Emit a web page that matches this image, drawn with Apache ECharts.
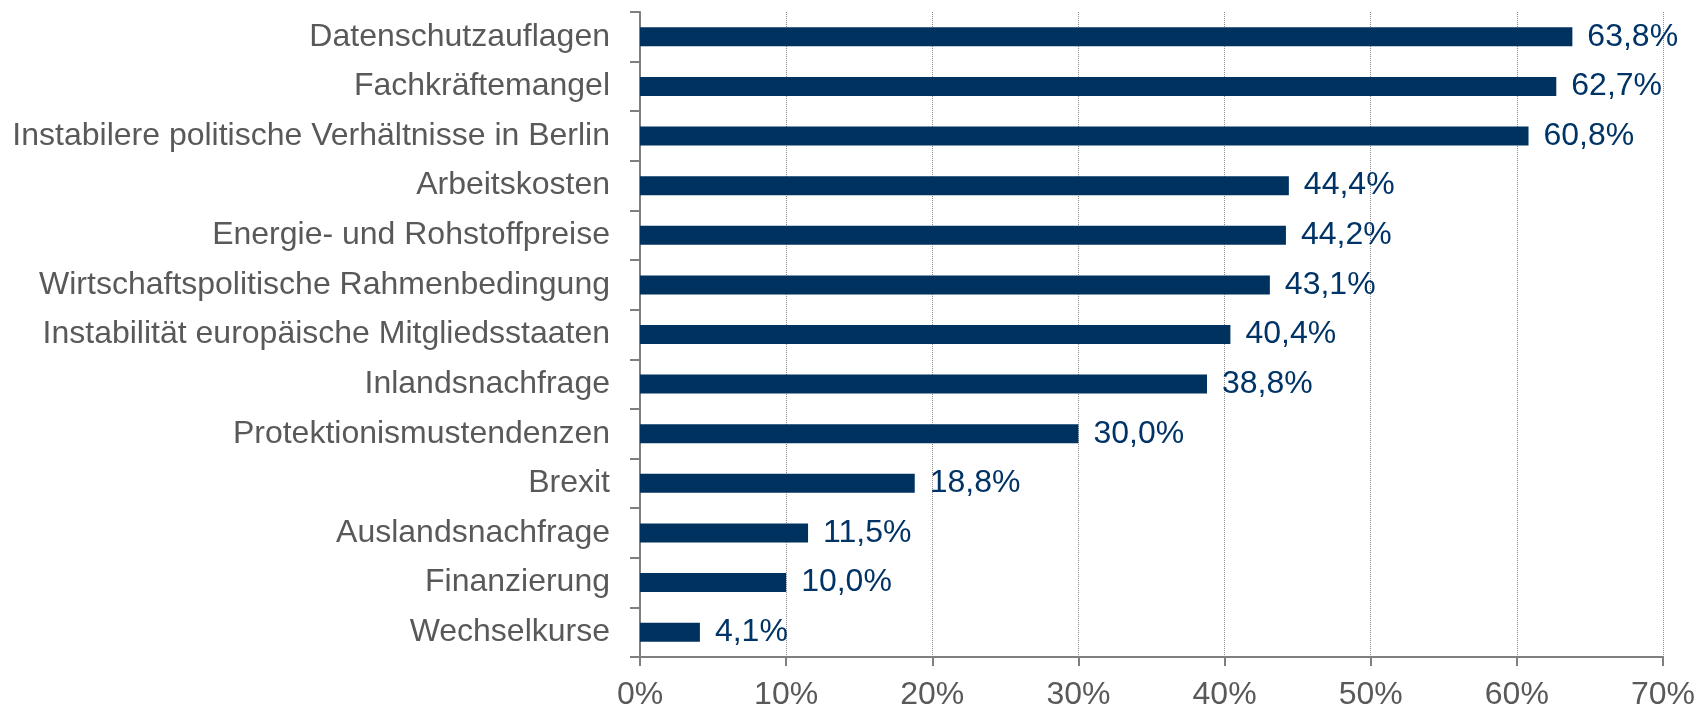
<!DOCTYPE html>
<html>
<head>
<meta charset="utf-8">
<script src="https://cdn.jsdelivr.net/npm/echarts@6/dist/echarts.min.js"></script>
<style>
  html, body { margin: 0; padding: 0; background: #fff; }
  #chart { width: 1698px; height: 712px; }
</style>
</head>
<body>
<div id="chart"></div>
<script>
// Kategorien von oben nach unten
const categories = [
  'Datenschutzauflagen',
  'Fachkräftemangel',
  'Instabilere politische Verhältnisse in Berlin',
  'Arbeitskosten',
  'Energie- und Rohstoffpreise',
  'Wirtschaftspolitische Rahmenbedingung',
  'Instabilität europäische Mitgliedsstaaten',
  'Inlandsnachfrage',
  'Protektionismustendenzen',
  'Brexit',
  'Auslandsnachfrage',
  'Finanzierung',
  'Wechselkurse'
]
const values = [63.8, 62.7, 60.8, 44.4, 44.2, 43.1, 40.4, 38.8, 30.0, 18.8, 11.5, 10.0, 4.1]
const xTicks = { min: 0, max: 70, interval: 10 }

const fontFamily = '"Liberation Sans", Arial, sans-serif'
const grey = '#595959'
const blue = '#003366'

const chart = echarts.init(document.getElementById('chart'))
chart.setOption({
  animation: false,
  grid: {
    left: 640,
    right: 33,
    top: 12,
    bottom: 55
  },
  xAxis: {
    type: 'value',
    min: xTicks.min,
    max: xTicks.max,
    interval: xTicks.interval,
    axisLine: {
      show: true,
      lineStyle: { color: '#7f7f7f', width: 2 }
    },
    axisTick: {
      show: true,
      length: 9,
      lineStyle: { color: '#7f7f7f', width: 2 }
    },
    splitLine: {
      show: true,
      lineStyle: { color: '#8c8c8c', type: 'dotted', width: 1 }
    },
    axisLabel: {
      margin: 22,
      formatter: '{value}%',
      color: grey,
      fontSize: 32,
      fontFamily: fontFamily
    }
  },
  yAxis: {
    type: 'category',
    inverse: true,
    data: categories,
    axisLine: {
      show: true,
      lineStyle: { color: '#7f7f7f', width: 2 }
    },
    axisTick: {
      show: true,
      length: 10,
      lineStyle: { color: '#7f7f7f', width: 2 }
    },
    axisLabel: {
      margin: 30,
      color: grey,
      fontSize: 32,
      fontFamily: fontFamily
    }
  },
  series: [{
    type: 'bar',
    data: values,
    barWidth: 19,
    itemStyle: { color: '#00325f' },
    label: {
      show: true,
      position: 'right',
      distance: 15,
      color: blue,
      fontSize: 32,
      fontFamily: fontFamily,
      formatter: (p) => p.value.toFixed(1).replace('.', ',') + '%'
    }
  }]
})
</script>
</body>
</html>
